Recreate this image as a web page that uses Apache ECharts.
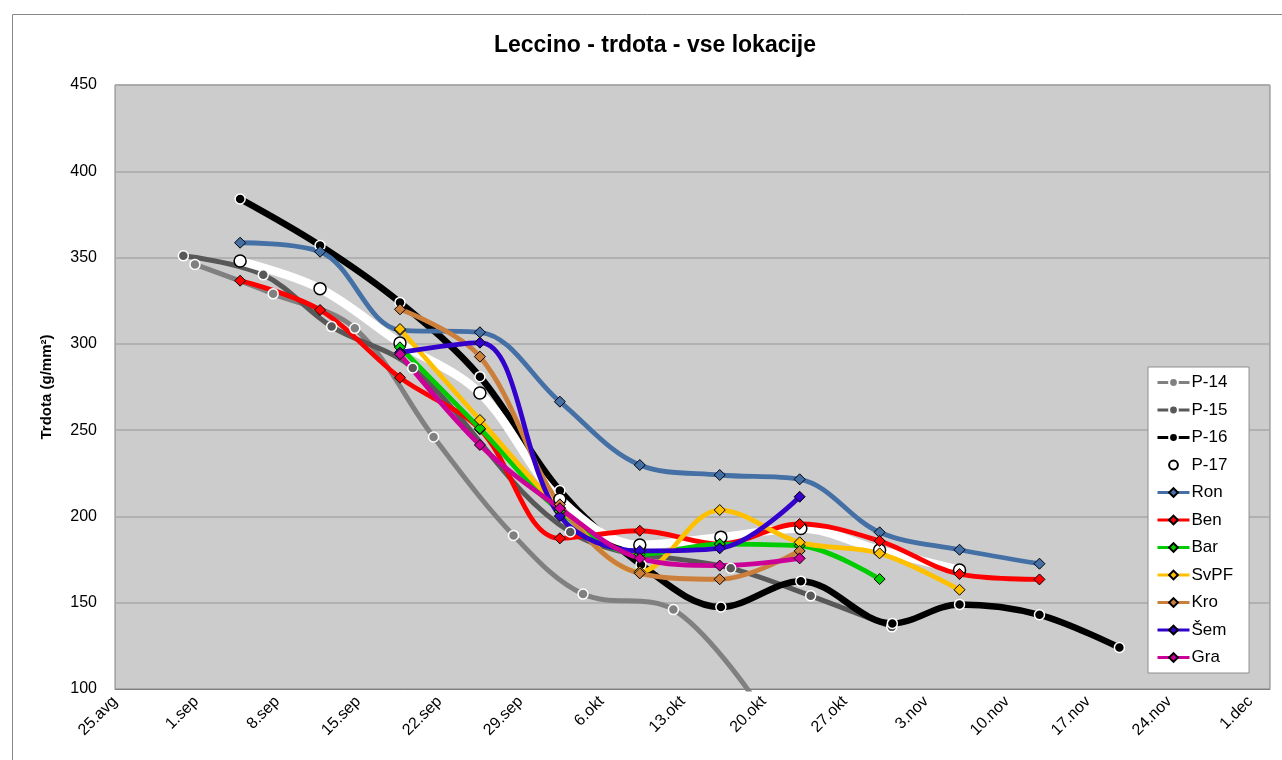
<!DOCTYPE html>
<html>
<head>
<meta charset="utf-8">
<script src="https://cdn.jsdelivr.net/npm/echarts@6/dist/echarts.min.js"></script>
<style>
html,body{margin:0;padding:0;background:#fff;}
#chart{width:1282px;height:760px;}
</style>
</head>
<body>
<div id="chart"></div>
<script>
// x tick labels (weekly, starting 25.avg)
const tickLabels = ['25.avg','1.sep','8.sep','15.sep','22.sep','29.sep','6.okt','13.okt','20.okt','27.okt','3.nov','10.nov','17.nov','24.nov','1.dec'];
const seriesNames = ['P-14','P-15','P-16','P-17','Ron','Ben','Bar','SvPF','Kro','Šem','Gra'];

// x = days since 25.avg, y = trdota (g/mm2)
const dayP14 = [6.9, 13.65, 20.7, 27.5, 34.4, 40.4, 48.2, 55.0];
const valP14 = [346, 329, 309, 246, 189, 155, 146, 96];
const dayP15 = [5.9, 12.8, 18.7, 25.7, 39.3, 53.15, 60.05, 67.05];
const valP15 = [351, 340, 310, 286, 191, 170, 154, 136];
const dayP16 = [10.8, 17.7, 24.6, 31.5, 38.4, 45.4, 52.3, 59.2, 67.1, 72.9, 79.8, 86.7];
const valP16 = [384, 357, 324, 281, 215, 172, 147.5, 162.5, 138, 149, 143, 124];
const dayP17 = [10.8, 17.7, 24.6, 31.5, 38.4, 45.3, 52.3, 59.2, 66.0, 72.9];
const valP17 = [348, 332, 300.5, 271.5, 210, 183.5, 188, 193, 180.5, 169];
const dayRon = [10.8, 17.7, 24.6, 31.5, 38.4, 45.3, 52.2, 59.1, 66.0, 72.9, 79.8];
const valRon = [358.6, 353.4, 308, 306.7, 266.5, 229.8, 224, 221.5, 190.8, 180.7, 172.6];
const dayBen = [10.8, 17.7, 24.6, 31.5, 38.4, 45.3, 52.2, 59.1, 66.0, 72.9, 79.8];
const valBen = [336.6, 319.6, 280.4, 250.5, 187.3, 191.7, 184, 195.6, 185.8, 166.6, 163.5];
const dayBar = [24.6, 31.5, 38.4, 45.3, 52.2, 59.1, 66.0];
const valBar = [298, 251, 203, 178, 184, 183, 163.7];
const daySvPF = [24.6, 31.5, 38.4, 45.3, 52.2, 59.1, 66.0, 72.9];
const valSvPF = [308.6, 255.9, 205, 168, 203.7, 185, 178.6, 157.5];
const dayKro = [24.6, 31.5, 38.4, 45.3, 52.2, 59.1];
const valKro = [320, 292.6, 207, 167, 163.6, 180];
const daySem = [24.6, 31.5, 38.4, 45.3, 52.2, 59.1];
const valSem = [295, 300.7, 200.2, 180, 181.5, 211.4];
const dayGra = [24.6, 31.5, 38.4, 45.3, 52.2, 59.1];
const valGra = [294, 241.4, 204.7, 175.7, 171.5, 175.7];

const zip = (d, v) => d.map((x, i) => [x, v[i]]);

function circleSeries(name, days, vals, color, width, fill, border, size) {
  return {
    name, type: 'line', smooth: 0.35, data: zip(days, vals),
    symbol: 'circle', symbolSize: size,
    lineStyle: { color, width },
    itemStyle: { color: fill, borderColor: border, borderWidth: 1.5 },
    emphasis: { disabled: true }
  };
}
function diamondSeries(name, days, vals, color) {
  return {
    name, type: 'line', smooth: 0.35, data: zip(days, vals),
    symbol: 'diamond', symbolSize: 11,
    lineStyle: { color, width: 4.8 },
    itemStyle: { color, borderColor: '#000', borderWidth: 1 },
    emphasis: { disabled: true }
  };
}

const series = [
  circleSeries('P-14', dayP14, valP14, '#808080', 5, '#808080', '#ffffff', 10),
  circleSeries('P-15', dayP15, valP15, '#585858', 5, '#585858', '#ffffff', 10),
  circleSeries('P-16', dayP16, valP16, '#000000', 6.5, '#000000', '#ffffff', 10),
  circleSeries('P-17', dayP17, valP17, '#ffffff', 8.5, '#ffffff', '#000000', 12),
  diamondSeries('Ron', dayRon, valRon, '#4470A5'),
  diamondSeries('Ben', dayBen, valBen, '#FF0000'),
  diamondSeries('Bar', dayBar, valBar, '#00CC00'),
  diamondSeries('SvPF', daySvPF, valSvPF, '#FFC000'),
  diamondSeries('Kro', dayKro, valKro, '#CC7F3A'),
  diamondSeries('Šem', daySem, valSem, '#3300CC'),
  diamondSeries('Gra', dayGra, valGra, '#CC0099')
];

const chart = echarts.init(document.getElementById('chart'), null, { renderer: 'canvas' });
chart.setOption({
  animation: false,
  backgroundColor: '#ffffff',
  title: {
    text: 'Leccino - trdota - vse lokacije',
    left: 650, top: 29, textAlign: 'center',
    textStyle: { fontFamily: 'Liberation Sans', fontWeight: 'bold', fontSize: 23, color: '#000' }
  },
  graphic: [{
    type: 'rect', left: 10, top: 12, z: -10,
    shape: { width: 1300, height: 800 },
    style: { fill: 'none', stroke: '#888888', lineWidth: 1 }
  }],
  grid: {
    left: 115, top: 85, right: 12, bottom: 71,
    show: true, backgroundColor: '#CCCCCC', borderColor: '#808080', borderWidth: 1
  },
  legend: {
    orient: 'vertical', left: 1148, top: 367,
    data: seriesNames,
    backgroundColor: '#ffffff', borderColor: '#8c8c8c', borderWidth: 1,
    padding: [7, 16, 7, 8], itemGap: 10.5, itemWidth: 32, itemHeight: 11,
    lineStyle: { width: 3 },
    textStyle: { fontFamily: 'Liberation Sans', fontSize: 17, color: '#000', padding: [0, 0, 0, -3] }
  },
  xAxis: {
    type: 'value', min: 0, max: 99.7, interval: 7,
    axisLine: { show: true, lineStyle: { color: '#808080' } },
    axisTick: { show: false },
    splitLine: { show: false },
    axisLabel: {
      rotate: 45, margin: 10, showMaxLabel: false,
      fontFamily: 'Liberation Sans', fontSize: 16, color: '#000',
      formatter: v => {
        const i = Math.round(v / 7);
        return Math.abs(v - i * 7) < 1e-6 && tickLabels[i] ? tickLabels[i] : '';
      }
    }
  },
  yAxis: {
    type: 'value', min: 100, max: 450, interval: 50,
    name: 'Trdota (g/mm²)', nameLocation: 'middle', nameGap: 61,
    nameTextStyle: { fontFamily: 'Liberation Sans', fontWeight: 'bold', fontSize: 15, color: '#000' },
    axisLine: { show: false }, axisTick: { show: false },
    splitLine: { show: true, lineStyle: { color: '#A8A8A8', width: 1.5 } },
    axisLabel: { margin: 18, fontFamily: 'Liberation Sans', fontSize: 16, color: '#000' }
  },
  series
});
</script>
</body>
</html>
